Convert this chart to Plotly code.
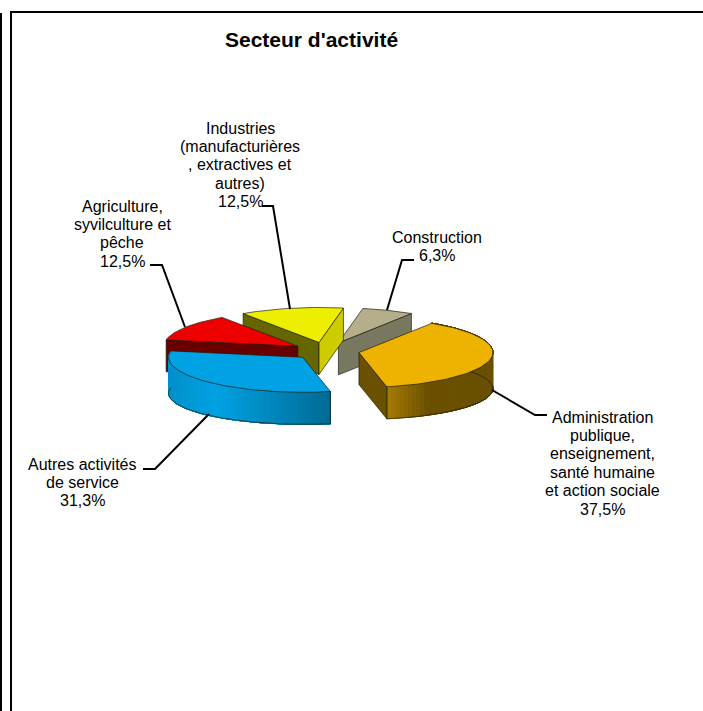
import math
import plotly.graph_objects as go

categories = ["Administration publique, enseignement, santé humaine et action sociale",
              "Construction",
              "Industries (manufacturières, extractives et autres)",
              "Agriculture, syvilculture et pêche",
              "Autres activités de service"]
values = [37.5, 6.25, 12.5, 12.5, 31.25]
value_labels = ["37,5%", "6,3%", "12,5%", "12,5%", "31,3%"]
top_colors = ["#EEB200", "#B4AE8A", "#EEEE00", "#EE0000", "#00A2E3"]
wall_colors = ["#6B5000", "#787860", "#666600", "#680000", "#0080B0"]
cut_end_colors = ["#6B5000", "#787860", "#CCCC00", "#680000", "#0080B0"]
label_lines = [["Administration", "publique,", "enseignement,", "santé humaine", "et action sociale", "37,5%"],
               ["Construction", "6,3%"],
               ["Industries", "(manufacturières", ", extractives et", "autres)", "12,5%"],
               ["Agriculture,", "syvilculture et", "pêche", "12,5%"],
               ["Autres activités", "de service", "31,3%"]]
label_pos = [(602, 417), (437, 237), (240, 128), (122, 206), (82, 464)]
leaders = [[(547, 415), (535, 415), (492, 390)],
           [(414, 260), (402, 260), (387, 310)],
           [(262, 206), (273, 206), (290, 309)],
           [(150, 265), (162, 265), (185, 327)],
           [(143, 469), (155, 469), (209, 414)]]

CX, CY, A, B, DEPTH, EXPLODE = 326, 351, 134, 35, 32, 0.25
BOTTOM_DROP, BOTTOM_B = 36, 31
START = -78.0
W, H = 703, 711
LINE_STEP = 18.4
FONT = "Liberation Sans"
EDGE = "rgba(25,25,10,0.85)"


def mix(c, f):
    c = c.lstrip("#")
    r, g, b = [int(c[i:i + 2], 16) for i in (0, 2, 4)]
    return f"rgb({int(r * f)},{int(g * f)},{int(b * f)})"


# slices run anticlockwise from the start angle, sized by their values
total = sum(values)
spans = []
t = START
for v in values:
    d = v / total * 360
    spans.append((t, t + d))
    t += d


def apex(i):
    m = math.radians(sum(spans[i]) / 2)
    return CX + EXPLODE * A * math.cos(m), CY - EXPLODE * B * math.sin(m)


def rim(i, a):
    x0, y0 = apex(i)
    r = math.radians(a)
    return x0 + A * math.cos(r), y0 - B * math.sin(r)


def low_rim(i, a):
    x0, y0 = apex(i)
    r = math.radians(a)
    return x0 + A * math.cos(r), y0 + BOTTOM_DROP - BOTTOM_B * math.sin(r)


def arc(i, a0, a1, n=60, f=rim):
    return [f(i, a0 + (a1 - a0) * k / n) for k in range(n + 1)]


fig = go.Figure()


def poly(pts, fill, line=EDGE, w=0.8):
    fig.add_trace(go.Scatter(x=[p[0] for p in pts] + [pts[0][0]], y=[p[1] for p in pts] + [pts[0][1]],
                             mode="lines", fill="toself", fillcolor=fill,
                             line=dict(color=line if w else fill, width=w if w else 0.5),
                             hoverinfo="skip", showlegend=False))


def wall(p, q, col):
    poly([p, q, (q[0], q[1] + DEPTH), (p[0], p[1] + DEPTH)], col)


def stroke(pts, color=EDGE, width=0.8):
    fig.add_trace(go.Scatter(x=[p[0] for p in pts], y=[p[1] for p in pts], mode="lines",
                             line=dict(color=color, width=width), hoverinfo="skip", showlegend=False))


def curved_side(i, a0, a1, front, shade):
    """Painter's gradient: each band reaches to the far end of the arc and the
    next band paints over it, so no seams show between bands."""
    n = 70
    xs = [p[0] for p in arc(i, a0, a1, 100)]
    xmin, xmax = min(xs), max(xs)
    # paint starting from the end opposite the front edge so bands stay on the visible side
    for k in range(n):
        s0 = a0 + (a1 - a0) * k / n
        s1 = a0 + (a1 - a0) * (k + 1) / n
        mid = rim(i, (s0 + s1) / 2)[0]
        f = shade((mid - xmin) / (xmax - xmin))
        poly(arc(i, s0, a1, 40) + arc(i, s0, a1, 40, low_rim)[::-1], mix(top_colors[i], f), w=0)
    stroke(arc(i, a0, a1, 80, low_rim))
    stroke([rim(i, front), low_rim(i, front)])


def top_face(i):
    a0, a1 = spans[i]
    poly([apex(i)] + arc(i, a0, a1), top_colors[i])


def shade_admin(u):
    return 0.70 - 0.25 * u / 0.4 if u < 0.4 else 0.45


def shade_services(u):
    return 0.9 + 0.1 * u / 0.3 if u < 0.3 else 1.0 - (u - 0.3) / 0.7 * 0.34


# back to front: construction, industries, agriculture, then administration, then services
wall(apex(1), rim(1, spans[1][0]), wall_colors[1])
top_face(1)
wall(apex(2), rim(2, spans[2][1]), wall_colors[2])
wall(apex(2), rim(2, spans[2][0]), cut_end_colors[2])
top_face(2)
wall(apex(3), rim(3, spans[3][1]), wall_colors[3])
top_face(3)
curved_side(0, spans[0][0], spans[0][1], spans[0][0], shade_admin)
wall(apex(0), rim(0, spans[0][0]), wall_colors[0])
top_face(0)
curved_side(4, spans[4][0], spans[4][1], spans[4][1], shade_services)
top_face(4)

# leader lines
for pts in leaders:
    stroke(pts, "black", 2)

for lines, (x, y) in zip(label_lines, label_pos):
    for k, txt in enumerate(lines):
        fig.add_annotation(x=x, y=y + k * LINE_STEP, text=txt, showarrow=False, xref="x", yref="y",
                           font=dict(family=FONT, size=16, color="black"), align="center")

fig.add_annotation(x=311, y=39, text="<b>Secteur d'activité</b>", showarrow=False, xref="x", yref="y",
                   font=dict(family=FONT, size=21, color="black"))

frame = [dict(x0=0, x1=2, y0=13, y1=H), dict(x0=10, x1=12, y0=11, y1=H), dict(x0=10, x1=W, y0=11, y1=13)]
for s in frame:
    fig.add_shape(type="rect", xref="x", yref="y", fillcolor="black", line_width=0, **s)

fig.update_layout(width=W, height=H, margin=dict(l=0, r=0, t=0, b=0), paper_bgcolor="white", plot_bgcolor="white",
                  showlegend=False,
                  xaxis=dict(range=[0, W], visible=False, fixedrange=True),
                  yaxis=dict(range=[H, 0], visible=False, fixedrange=True))
fig.write_html("out.html", config={"displayModeBar": False},
               post_script="document.body.style.margin='0';document.documentElement.style.overflow='hidden';")
